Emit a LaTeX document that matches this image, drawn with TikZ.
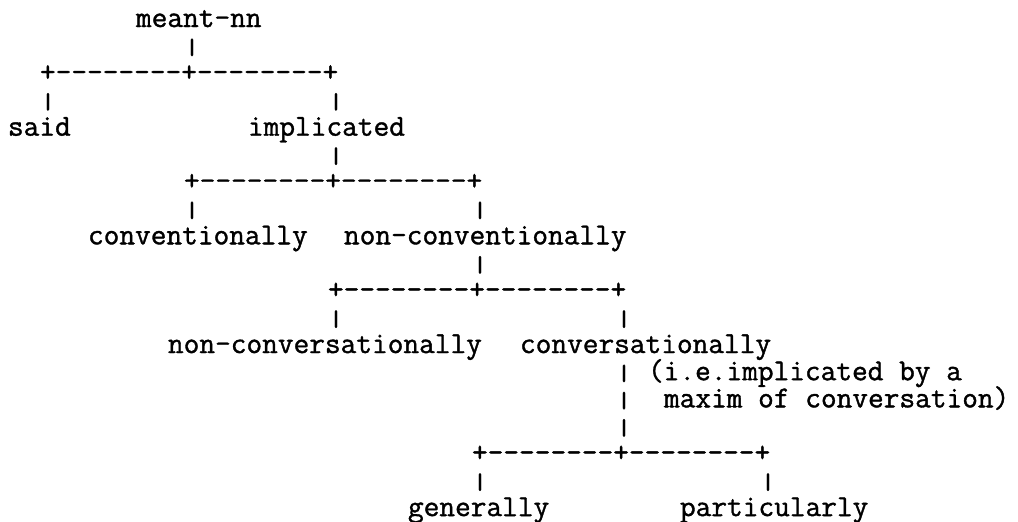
\documentclass[tikz,border=0pt]{standalone}
\usepackage{fontspec}
\usepackage{graphicx}
\setmonofont{Latin Modern Mono}[FakeBold=1.2]
\newcommand\vbarglyph{\raisebox{-1pt}{\resizebox*{0.525em}{8.75pt}{\raisebox{\depth}{|}}}}
\tikzset{
  lbl/.style={anchor=base west, inner sep=0pt, outer sep=0pt,
    text height=8pt, text depth=2pt,
    font=\ttfamily\fontsize{15.24pt}{16pt}\selectfont, text=black},
}
\newcommand\txt[4]{\node[lbl] (#1) at ({8+16*#2},{27+27.17*(#3-1)}) {#4};}
\newcommand\vb[3]{\node[lbl] (#1) at ({8+16*#2},{27+27.17*(#3-1)}) {\vbarglyph};}
\begin{document}
\begin{tikzpicture}[x=0.5pt,y=-0.5pt]
\useasboundingbox[fill=white] (0,0) rectangle (1018,521);
% level 1
\txt{meant}{8}{1}{meant-nn}
\vb{b1}{11}{2}
\txt{f1}{2}{3}{+--------+--------+}
\vb{b2}{2}{4}
\vb{b3}{20}{4}
\txt{said}{0}{5}{said}
\txt{impl}{15}{5}{implicated}
% level 2
\vb{b4}{20}{6}
\txt{f2}{11}{7}{+--------+--------+}
\vb{b5}{11}{8}
\vb{b6}{29}{8}
\txt{conv}{5}{9}{conventionally}
\txt{nonconv}{21}{9}{non-conventionally}
% level 3
\vb{b7}{29}{10}
\txt{f3}{20}{11}{+--------+--------+}
\vb{b8}{20}{12}
\vb{b9}{38}{12}
\txt{nonconvers}{10}{13}{non-conversationally}
\txt{convers}{32}{13}{conversationally}
\vb{b10}{38}{14}
\txt{note1}{40}{14}{(i.e.implicated by a}
\vb{b11}{38}{15}
\txt{note2}{41}{15}{maxim of conversation)}
\vb{b12}{38}{16}
% level 4
\txt{f4}{29}{17}{+--------+--------+}
\vb{b13}{29}{18}
\vb{b14}{47}{18}
\txt{gen}{25}{19}{generally}
\txt{part}{42}{19}{particularly}
\end{tikzpicture}
\end{document}
